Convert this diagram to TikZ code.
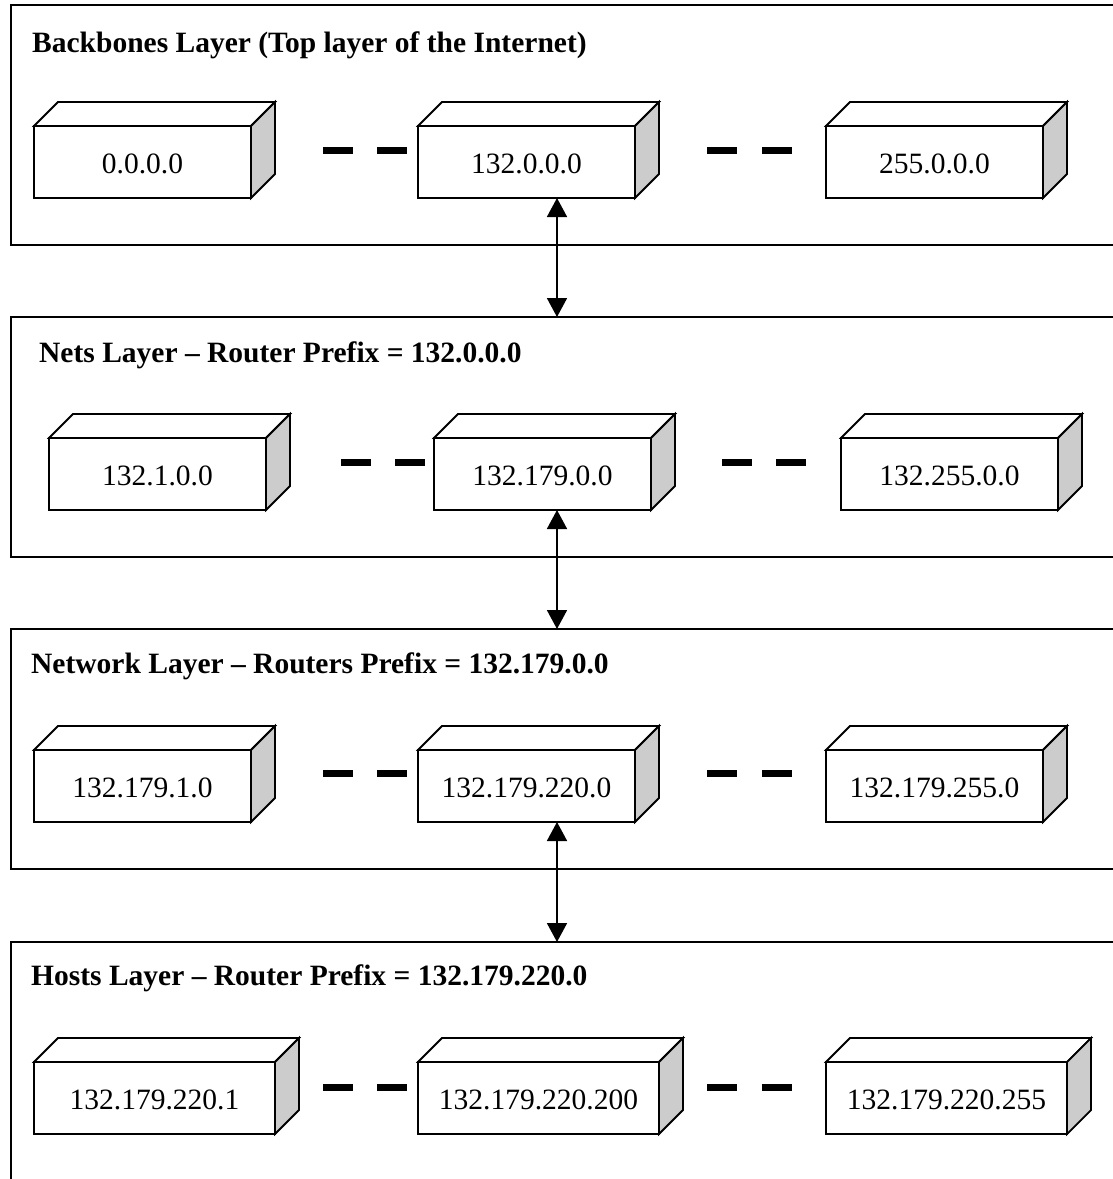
\documentclass[tikz,border=0pt]{standalone}
\usepackage{fontspec}
\setmainfont{Liberation Serif}
\usetikzlibrary{arrows.meta,calc}
\definecolor{sidegray}{RGB}{204,204,204}
\tikzset{
  layerframe/.style={draw, line width=2pt, rectangle, inner sep=0pt, outer sep=0pt, anchor=north west, minimum width=1130pt},
  routerbox/.style={draw, line width=1.8pt, fill=white, rectangle, inner sep=0pt, outer sep=0pt,
     minimum height=72pt, minimum width=217pt, text height=23pt, text depth=0pt,
     anchor=north west, font=\fontsize{29.5}{31}\selectfont},
  widebox/.style={routerbox, minimum width=241pt},
  layertitle/.style={anchor=base west, inner sep=0pt, font=\fontsize{29.5}{31}\selectfont\bfseries},
  dashbar/.style={fill=black, draw=none, rectangle, inner sep=0pt, outer sep=0pt, minimum width=30pt, minimum height=7pt},
  biarrow/.style={line width=1.8pt, {Triangle[width=20pt,length=19pt]}-{Triangle[width=20pt,length=19pt]}},
  faceline/.style={line width=1.8pt, line join=miter},
}
\newcommand\boxfaces[1]{%
  \draw[faceline, fill=white] (#1.north west) -- ++(24,-24) -- ($(#1.north east)+(24,-24)$) -- (#1.north east) -- cycle;
  \draw[faceline, fill=sidegray] (#1.north east) -- ++(24,-24) -- ($(#1.south east)+(24,-24)$) -- (#1.south east) -- cycle;
}
\begin{document}
\begin{tikzpicture}[x=1pt,y=-1pt]
\useasboundingbox (0,0) rectangle (1113,1179);
\clip (0,0) rectangle (1113,1179);
\fill[white] (0,0) rectangle (1113,1179);
\coordinate (ax) at (557,0);

% Layer frames
\node[layerframe, minimum height=240pt] (L1) at (11,5) {};
\node[layerframe, minimum height=240pt] (L2) at (11,317) {};
\node[layerframe, minimum height=240pt] (L3) at (11,629) {};
\node[layerframe, minimum height=300pt] (L4) at (11,942) {};

% Titles
\node[layertitle] (t1) at (32,52) {Backbones Layer (Top layer of the Internet)};
\node[layertitle] (t2) at (39,362) {Nets Layer – Router Prefix = 132.0.0.0};
\node[layertitle] (t3) at (31,673) {Network Layer – Routers Prefix = 132.179.0.0};
\node[layertitle] (t4) at (31,985) {Hosts Layer – Router Prefix = 132.179.220.0};

% Layer 1 boxes
\node[routerbox] (b11) at (34,126) {0.0.0.0};
\node[routerbox] (b12) at (418,126) {132.0.0.0};
\node[routerbox] (b13) at (826,126) {255.0.0.0};
% Layer 2 boxes
\node[routerbox] (b21) at (49,438) {132.1.0.0};
\node[routerbox] (b22) at (434,438) {132.179.0.0};
\node[routerbox] (b23) at (841,438) {132.255.0.0};
% Layer 3 boxes
\node[routerbox] (b31) at (34,750) {132.179.1.0};
\node[routerbox] (b32) at (418,750) {132.179.220.0};
\node[routerbox] (b33) at (826,750) {132.179.255.0};
% Layer 4 boxes
\node[widebox] (b41) at (34,1062) {132.179.220.1};
\node[widebox] (b42) at (418,1062) {132.179.220.200};
\node[widebox] (b43) at (826,1062) {132.179.220.255};

\foreach \b in {b11,b12,b13,b21,b22,b23,b31,b32,b33,b41,b42,b43}{\boxfaces{\b}}

% Dashes
\foreach \y/\n in {150/1,773/3,1087/4}{
  \node[dashbar] (d\n a) at (337.5,\y) {};
  \node[dashbar] (d\n b) at (392,\y) {};
  \node[dashbar] (d\n c) at (722,\y) {};
  \node[dashbar] (d\n d) at (776.5,\y) {};
}
\node[dashbar] (d2a) at (355.5,462) {};
\node[dashbar] (d2b) at (409.5,462) {};
\node[dashbar] (d2c) at (737,462) {};
\node[dashbar] (d2d) at (790.5,462) {};

% Arrows between layers
\draw[biarrow] (b12.south -| ax) -- (L2.north -| ax);
\draw[biarrow] (b22.south -| ax) -- (L3.north -| ax);
\draw[biarrow] (b32.south -| ax) -- (L4.north -| ax);
\end{tikzpicture}
\end{document}
